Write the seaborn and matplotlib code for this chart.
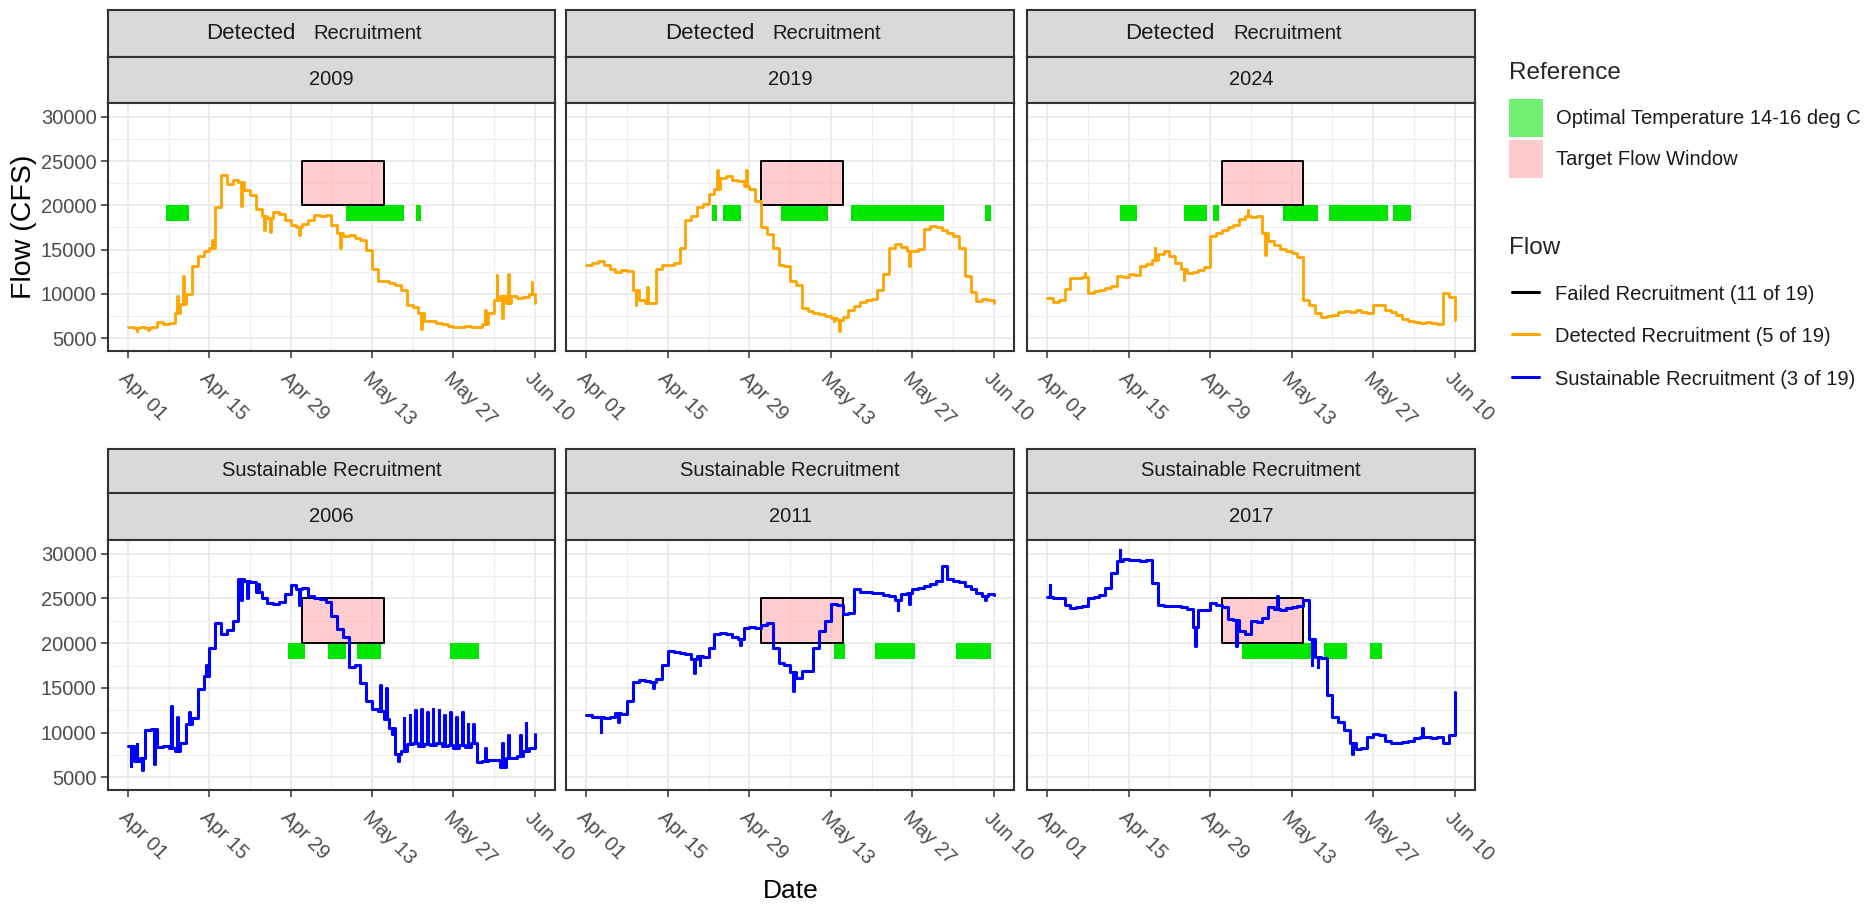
import pandas as pd
import matplotlib
matplotlib.use("Agg")
import matplotlib.pyplot as plt
import matplotlib.dates as mdates
from matplotlib.patches import Patch
from matplotlib.lines import Line2D
import seaborn as sns

# daily flow (CFS) from Apr 01 to Jun 10, one value per day
flow_2009 = [6300, 6200, 6300, 6200, 6300, 6800, 6600, 6700, 7800, 8900,
             10000, 13100, 14300, 14800, 15200, 19800, 23400, 22400, 22900, 22600,
             21700, 21200, 19600, 18800, 18600, 19300, 19000, 18300, 17800, 17500,
             17900, 18300, 18900, 18800, 18900, 17800, 16900, 16500, 16600, 16300,
             16100, 15000, 12800, 11500, 11500, 11200, 11000, 10500, 8700, 8500,
             7800, 7000, 7000, 6700, 6600, 6400, 6300, 6300, 6400, 6300,
             6300, 6600, 7800, 9300, 9800, 9000, 9800, 9500, 9700, 10000,
             9000]
flow_2019 = [13300, 13500, 13700, 13300, 12800, 12500, 12700, 12600, 10500, 9300,
             9000, 9000, 12800, 13300, 13300, 13500, 15200, 18400, 18800, 19800,
             20100, 21300, 21800, 23100, 23300, 22900, 22800, 22200, 21800, 20500,
             17600, 16800, 15200, 13300, 13100, 11500, 11000, 8400, 8100, 7900,
             7700, 7500, 7300, 7100, 7400, 8200, 8600, 9100, 9300, 9400,
             10500, 12300, 15200, 15600, 15300, 14900, 14800, 15100, 17300, 17700,
             17500, 17200, 16900, 16500, 15200, 12000, 10200, 9200, 9400, 9300,
             9000]
flow_2024 = [9500, 9100, 9300, 10600, 11800, 11800, 11900, 10100, 10300, 10500,
             10700, 10900, 12000, 11900, 12200, 12100, 13100, 13400, 13800, 14500,
             14800, 14300, 13500, 12800, 12400, 12500, 12700, 13000, 16500, 16900,
             17200, 17600, 17800, 18500, 18800, 18700, 18800, 16900, 16000, 15500,
             15100, 14900, 14600, 14200, 9300, 8800, 7900, 7400, 7500, 7600,
             8000, 8100, 8000, 8200, 8000, 7900, 8800, 8700, 8200, 8000,
             7600, 7200, 7000, 6800, 6700, 6800, 6700, 6600, 10100, 9700,
             7100]
flow_2006 = [8500, 6800, 7200, 10300, 10400, 8400, 8500, 8300, 8000, 8800,
             11000, 11600, 14900, 16300, 19500, 22300, 21000, 21500, 22500, 27200,
             27000, 26800, 25700, 25000, 24500, 24400, 24600, 25500, 26500, 26100,
             26200, 25300, 25000, 24900, 24600, 23000, 21600, 20700, 17300, 17600,
             15600, 13500, 12600, 12400, 11500, 10500, 7600, 8000, 8700, 8800,
             8500, 8700, 8600, 8800, 8500, 8600, 8300, 8600, 8400, 8800,
             6700, 6800, 7000, 6900, 6200, 7200, 7200, 7400, 8000, 8300,
             9900]
flow_2011 = [12000, 11800, 11700, 11600, 11700, 12200, 12100, 13500, 15700, 15900,
             15800, 15700, 16000, 17600, 19100, 19000, 18900, 18800, 18200, 18600,
             18500, 19500, 21000, 21100, 21000, 20700, 20500, 21700, 21800, 21700,
             22000, 22200, 19500, 17800, 17600, 16800, 16100, 16900, 16900, 19500,
             21400, 22500, 24400, 24300, 23300, 23400, 26000, 25700, 25700, 25600,
             25600, 25400, 25300, 24800, 25500, 25600, 26000, 26200, 26400, 26600,
             26900, 28600, 27200, 27000, 26800, 26400, 26000, 25600, 25300, 25500,
             25400]
flow_2017 = [25200, 25000, 25000, 24300, 23900, 24000, 24200, 25000, 25200, 25400,
             26200, 27800, 29200, 29400, 29300, 29300, 29200, 29300, 26700, 24300,
             24200, 24200, 24100, 24000, 23800, 21800, 23700, 23700, 24500, 24300,
             24000, 22700, 22600, 21400, 21000, 22500, 22400, 22800, 24000, 23800,
             23700, 23900, 24000, 24100, 24800, 20500, 18400, 18300, 14200, 11800,
             11200, 10300, 8800, 8200, 8300, 9500, 9900, 9700, 9100, 8900,
             8900, 9000, 9100, 9400, 9500, 9500, 9400, 9500, 8800, 9700,
             14600]

# short sub-daily excursions: (day index, flow)
spikes_2009 = [(1, 5800), (3, 5900), (8, 9800), (9, 12000), (14, 16100), (19, 19900),
               (23, 17200), (24, 17000), (29, 16700), (36, 15200), (50, 6000),
               (61, 8200), (63, 12100), (64, 7300), (65, 12300), (69, 11400)]
spikes_2019 = [(8, 8700), (10, 10800), (22, 24000), (27, 24000), (42, 6900),
               (43, 5800), (55, 13100)]
spikes_2024 = [(6, 12400), (18, 15200), (23, 11600), (34, 19500), (37, 14400)]
spikes_2006 = [(0, 6300), (1, 8700), (2, 5800), (4, 6500), (7, 13000), (8, 11800),
               (10, 12300), (13, 17600), (19, 24800), (20, 25000), (22, 26600),
               (29, 24300), (43, 15300), (44, 15000), (45, 9800), (46, 6800),
               (47, 11600), (48, 12000), (49, 12500), (50, 12700), (51, 12300),
               (52, 12600), (53, 12500), (54, 12000), (55, 12300), (56, 11800),
               (57, 12300), (58, 11000), (59, 11000), (61, 8300), (64, 8800),
               (65, 9700), (67, 9700), (68, 11100)]
spikes_2011 = [(2, 10100), (5, 11200), (11, 15000), (18, 16700), (19, 17600),
               (26, 19800), (35, 14700), (53, 23700), (55, 24400), (68, 24800)]
spikes_2017 = [(0, 26500), (12, 30400), (25, 19700), (32, 19700), (39, 25300),
               (45, 17600), (46, 17300), (52, 7600), (64, 10500)]

# days with optimal temperature (first, last)
temp_2009 = [("04-08", "04-11"), ("05-09", "05-18"), ("05-21", "05-21")]
temp_2019 = [("04-23", "04-23"), ("04-25", "04-27"), ("05-05", "05-12"),
             ("05-17", "06-01"), ("06-09", "06-09")]
temp_2024 = [("04-14", "04-16"), ("04-25", "04-28"), ("04-30", "04-30"),
             ("05-12", "05-17"), ("05-20", "05-29"), ("05-31", "06-02")]
temp_2006 = [("04-29", "05-01"), ("05-06", "05-08"), ("05-11", "05-14"), ("05-27", "05-31")]
temp_2011 = [("05-14", "05-15"), ("05-21", "05-27"), ("06-04", "06-09")]
temp_2017 = [("05-05", "05-16"), ("05-19", "05-22"), ("05-27", "05-28")]

target_dates = ("05-01", "05-15")
target_flow = (20000, 25000)
temp_band = (18200, 20000)

top_years = [2009, 2019, 2024]
bottom_years = [2006, 2011, 2017]
row_labels = ["Detected Recruitment", "Sustainable Recruitment"]
tick_dates = ["04-01", "04-15", "04-29", "05-13", "05-27", "06-10"]
y_ticks = [5000, 10000, 15000, 20000, 25000, 30000]

flow_labels = ["Failed Recruitment (11 of 19)", "Detected Recruitment (5 of 19)",
               "Sustainable Recruitment (3 of 19)"]
flow_colors = ["black", "orange", "blue"]
ref_labels = ["Optimal Temperature 14-16 deg C", "Target Flow Window"]

series = {
    2009: (flow_2009, spikes_2009, temp_2009),
    2019: (flow_2019, spikes_2019, temp_2019),
    2024: (flow_2024, spikes_2024, temp_2024),
    2006: (flow_2006, spikes_2006, temp_2006),
    2011: (flow_2011, spikes_2011, temp_2011),
    2017: (flow_2017, spikes_2017, temp_2017),
}


def d(md):
    # all years drawn on a common season axis
    return pd.Timestamp(f"2000-{md}")


def flow_frame(values, spikes):
    days = pd.date_range("2000-04-01", periods=len(values), freq="D")
    spike_map = dict(spikes)
    rows = []
    for i, (day, v) in enumerate(zip(days, values)):
        rows.append((day, v))
        if i in spike_map:
            rows.append((day + pd.Timedelta(hours=11), spike_map[i]))
            rows.append((day + pd.Timedelta(hours=14), v))
    return pd.DataFrame(rows, columns=["date", "flow"])


sns.set_theme(style="white")
plt.rcParams["font.family"] = ["Liberation Sans", "DejaVu Sans"]

W, H = 1868, 907
fig = plt.figure(figsize=(W / 100, H / 100), dpi=100)


def box(l, t, r, b):
    return [l / W, 1 - b / H, (r - l) / W, (b - t) / H]


cols = [(107.7, 555.0), (566.0, 1014.3), (1026.7, 1475.0)]
rows_px = [(10.0, 56.7, 102.7, 350.7), (448.5, 493.3, 539.5, 790.0)]
edge = "#333333"

major_x = [d(t) for t in tick_dates]
minor_x = [t + pd.Timedelta(days=7) for t in major_x[:-1]]
minor_y = [7500, 12500, 17500, 22500, 27500]


def strip(l, t, r, b):
    s = fig.add_axes(box(l, t, r, b))
    s.set_facecolor("#D9D9D9")
    s.set_xticks([])
    s.set_yticks([])
    for sp in s.spines.values():
        sp.set_color(edge)
        sp.set_linewidth(1.5)
    return s


for ri, years in enumerate([top_years, bottom_years]):
    t0, t1, t2, b = rows_px[ri]
    color = flow_colors[ri + 1]
    for ci, yr in enumerate(years):
        l, r = cols[ci]
        s1 = strip(l, t0, r, t1)
        if ri == 0:
            s1.text(0.42, 0.5, "Detected", ha="right", va="center", fontsize=16,
                    color="#1A1A1A", transform=s1.transAxes)
            s1.text(0.46, 0.5, "Recruitment", ha="left", va="center", fontsize=14.5,
                    color="#1A1A1A", transform=s1.transAxes)
        else:
            s1.text(0.5, 0.5, row_labels[ri], ha="center", va="center", fontsize=14.5,
                    color="#1A1A1A", transform=s1.transAxes)
        s2 = strip(l, t1, r, t2)
        s2.text(0.5, 0.5, str(yr), ha="center", va="center", fontsize=14.5,
                color="#1A1A1A", transform=s2.transAxes)

        ax = fig.add_axes(box(l, t2, r, b))
        ax.set_facecolor("white")
        values, spikes, temps = series[yr]

        for a, z in temps:
            ax.fill_between([d(a) - pd.Timedelta(hours=12), d(z) + pd.Timedelta(hours=12)],
                            temp_band[0], temp_band[1], color="#00E600", lw=0, zorder=2)
        ax.fill_between([d(target_dates[0]), d(target_dates[1])],
                        target_flow[0], target_flow[1],
                        facecolor=(1.0, 0.68, 0.70, 0.62), edgecolor="black",
                        lw=1.4, zorder=2.5)

        df = flow_frame(values, spikes)
        sns.lineplot(data=df, x="date", y="flow", ax=ax, color=color,
                     lw=2.0 if ri == 0 else 2.2, drawstyle="steps-post",
                     estimator=None, sort=False, legend=False, zorder=3)

        ax.set_xlim(d("04-01") - pd.Timedelta(days=3.5), d("06-10") + pd.Timedelta(days=3.5))
        ax.set_ylim(3600, 31580)
        ax.set_xticks(major_x)
        ax.set_xticks(minor_x, minor=True)
        ax.set_yticks(y_ticks)
        ax.set_yticks(minor_y, minor=True)
        ax.xaxis.set_major_formatter(mdates.DateFormatter("%b %d"))
        ax.set_axisbelow(True)
        ax.grid(which="major", color="#EBEBEB", lw=1.3)
        ax.grid(which="minor", color="#EFEFEF", lw=0.8)
        ax.set_xlabel("")
        ax.set_ylabel("")
        for sp in ax.spines.values():
            sp.set_color(edge)
            sp.set_linewidth(1.5)
        ax.tick_params(which="major", length=5, width=1.1, color=edge,
                       labelcolor="#4D4D4D", labelsize=14.5, pad=3,
                       bottom=True, left=(ci == 0), labelleft=(ci == 0))
        ax.tick_params(axis="x", which="major", pad=8)
        ax.tick_params(which="minor", length=0)
        plt.setp(ax.get_xticklabels(), rotation=-45, ha="left", va="top",
                 rotation_mode="anchor")

fig.text(24 / W, 1 - 226.7 / H, "Flow (CFS)", rotation=90, ha="center", va="center",
         fontsize=20.5, color="black")
fig.text(791 / W, 1 - 891 / H, "Date", ha="center", va="center", fontsize=19,
         color="black")

# legends
fig.text(1509 / W, 1 - 73 / H, "Reference", ha="left", va="center", fontsize=17.5)
fig.text(1509 / W, 1 - 248 / H, "Flow", ha="left", va="center", fontsize=17.5)
ref_handles = [Patch(facecolor="#72F072", edgecolor="none", label=ref_labels[0]),
               Patch(facecolor="#FFCCCE", edgecolor="none", label=ref_labels[1])]
fig.legend(handles=ref_handles, loc="upper left", bbox_to_anchor=(1509 / W, 1 - 99 / H),
           frameon=False, fontsize=14.5, handlelength=1.7, handleheight=2.53,
           handletextpad=0.65, labelspacing=0.15, borderpad=0, borderaxespad=0,
           labelcolor="#1A1A1A")
flow_handles = [Line2D([], [], color=c, lw=2.2, label=lab)
                for c, lab in zip(flow_colors, flow_labels)]
fig.legend(handles=flow_handles, loc="upper left", bbox_to_anchor=(1512 / W, 1 - 284 / H),
           frameon=False, fontsize=14.5, handlelength=1.35, handleheight=1.0,
           handletextpad=0.8, labelspacing=1.12, borderpad=0, borderaxespad=0,
           labelcolor="#1A1A1A")

fig.savefig("out.png", dpi=100)
